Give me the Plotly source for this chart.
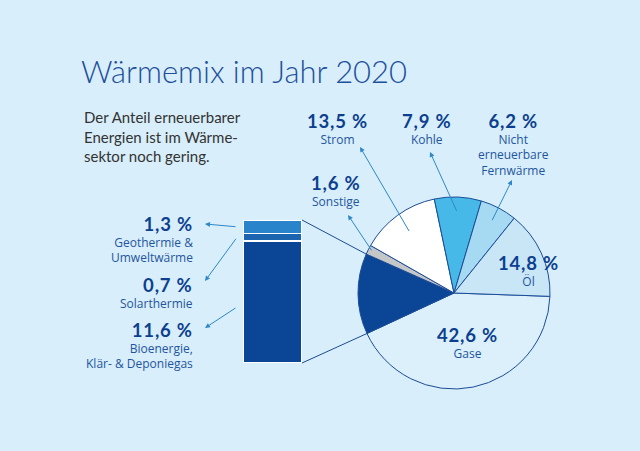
import math
import plotly.graph_objects as go

W, H = 640, 451

# ---- data ----
pie_labels = ["Gase", "Erneuerbare", "Sonstige", "Strom", "Kohle", "Nicht erneuerbare Fernwärme", "Öl"]
pie_values = [42.6, 13.6, 1.6, 13.5, 7.9, 6.2, 14.8]
pie_colors = ["#dbf0fb", "#0b4696", "#c4c6c8", "#ffffff", "#47b9e8", "#a6d9f2", "#c8e6f6"]

ren_labels = ["Bioenergie, Klär- & Deponiegas", "Solarthermie", "Geothermie & Umweltwärme"]
ren_values = [11.6, 0.7, 1.3]
ren_colors = ["#0b4696", "#1b64b0", "#2a84cb"]

BG = "#d8eefa"
NUM = "#0d3f8f"
SUB = "#1f559f"
ARROW = "#2e88c8"
LINE = "#1c4c98"
FONT = "Lato"
SUBFONT = "Open Sans"

def px(x):
    return x / W

def py(y):
    return 1 - y / H

# ---- layout geometry (pixels) ----
cx, cy, R = 454, 293, 96
start_deg = 2.0
bx0, bx1, by0, by1 = 243, 302, 220, 363

total = sum(pie_values)
edges = [start_deg]
for v in pie_values:
    edges.append(edges[-1] + v / total * 360)

def pt(theta, frac=1.0):
    t = math.radians(theta)
    return cx + frac * R * math.cos(t), cy + frac * R * math.sin(t)

fig = go.Figure()

fig.add_trace(go.Pie(
    labels=pie_labels, values=pie_values, sort=False, direction="clockwise",
    rotation=90 + start_deg,
    marker=dict(colors=pie_colors, line=dict(color=LINE, width=1)),
    textinfo="none", hoverinfo="label+percent", showlegend=False,
    domain=dict(x=[px(cx - R), px(cx + R)], y=[py(cy + R), py(cy - R)]),
))

for lab, val, col in zip(ren_labels, ren_values, ren_colors):
    fig.add_trace(go.Bar(
        x=[0], y=[val], name=lab, marker=dict(color=col, line=dict(color="#ffffff", width=1.2)),
        width=1, showlegend=False, xaxis="x", yaxis="y",
    ))

ren_total = sum(ren_values)
fig.update_layout(
    barmode="stack",
    width=W, height=H,
    margin=dict(l=0, r=0, t=0, b=0),
    paper_bgcolor=BG, plot_bgcolor="rgba(0,0,0,0)",
    xaxis=dict(domain=[px(bx0), px(bx1)], range=[-0.5, 0.5], visible=False, fixedrange=True),
    yaxis=dict(domain=[py(by1), py(by0)], range=[0, ren_total], visible=False, fixedrange=True),
    font=dict(family=FONT),
)

ren_idx = 1
p_top = pt(edges[ren_idx + 1])
p_bot = pt(edges[ren_idx])
fig.add_shape(type="line", xref="paper", yref="paper", x0=px(bx1), y0=py(by0), x1=px(p_top[0]), y1=py(p_top[1]),
              line=dict(color=LINE, width=1))
fig.add_shape(type="line", xref="paper", yref="paper", x0=px(bx1), y0=py(by1), x1=px(p_bot[0]), y1=py(p_bot[1]),
              line=dict(color=LINE, width=1))

annots = []

def arrow(hx, hy, tx, ty):
    annots.append(dict(x=px(hx), y=py(hy), xref="paper", yref="paper", text="", showarrow=True,
                       ax=tx - hx, ay=ty - hy, axref="pixel", ayref="pixel",
                       arrowhead=2, arrowsize=1, arrowwidth=1, arrowcolor=ARROW, standoff=0, startstandoff=0))

def fmt(v):
    return f"{v:.1f} %".replace(".", ",")

SUBSIZE = 12
NUMSIZE = 18.5

def label(x, ytop, v, lines, align="center"):
    s = (f"<span style='font-family:{FONT};font-size:{NUMSIZE}px;font-weight:bold;"
         f"letter-spacing:0.8px;color:{NUM}'>{fmt(v)}</span>")
    s += "".join("<br>" + l for l in lines)
    annots.append(dict(x=px(x), y=py(ytop), xref="paper", yref="paper", text=s, showarrow=False,
                       xanchor=align, yanchor="top", align=align, borderpad=0,
                       font=dict(family=SUBFONT, size=SUBSIZE, color=SUB)))

# title and subtitle
annots.append(dict(x=px(79), y=py(71), xref="paper", yref="paper", text="Wärmemix im Jahr 2020",
                   showarrow=False, xanchor="left", yanchor="middle",
                   font=dict(family=FONT, size=31, color="#1d4f9c", weight=300)))
annots.append(dict(x=px(83), y=py(107), xref="paper", yref="paper",
                   text="Der Anteil erneuerbarer<br>Energien ist im Wärme-<br>sektor noch gering.",
                   showarrow=False, xanchor="left", yanchor="top", align="left", borderpad=0,
                   font=dict(family=FONT, size=15, color="#333333")))

# pie labels
label(337, 109, pie_values[3], ["Strom"])
label(426, 109, pie_values[4], ["Kohle"])
label(513, 109, pie_values[5], ["Nicht", "erneuerbare", "Fernwärme"])
label(335, 171, pie_values[2], ["Sonstige"])
label(528, 251, pie_values[6], ["Öl"])
label(467, 323, pie_values[0], ["Gase"])

def mid(i):
    return (edges[i] + edges[i + 1]) / 2

for idx, (hx, hy), frac in [(3, (360, 147), 0.78), (4, (430, 152), 0.84), (5, (512, 180), 0.84), (2, (348, 215), 0.95)]:
    tx, ty = pt(mid(idx), frac)
    arrow(hx, hy, tx, ty)

# renewable labels (right aligned)
label(194, 212, ren_values[2], ["Geothermie &", "Umweltwärme"], align="right")
label(194, 273, ren_values[1], ["Solarthermie"], align="right")
label(194, 318, ren_values[0], ["Bioenergie,", "Klär- & Deponiegas"], align="right")

def bar_y(v):
    return by1 - v / ren_total * (by1 - by0)

c_bio = bar_y(ren_values[0] / 2) + 5
c_sol = bar_y(ren_values[0] + ren_values[1] / 2)
c_geo = bar_y(ren_values[0] + ren_values[1] + ren_values[2] / 2)
arrow(205, 224, 237, c_geo)
arrow(205, 281, 237, c_sol)
arrow(205, 328, 237, c_bio)

fig.update_layout(annotations=annots)
fig.write_html("out.html", config={"displayModeBar": False},
               post_script="document.body.style.margin='0';document.body.style.padding='0';")
